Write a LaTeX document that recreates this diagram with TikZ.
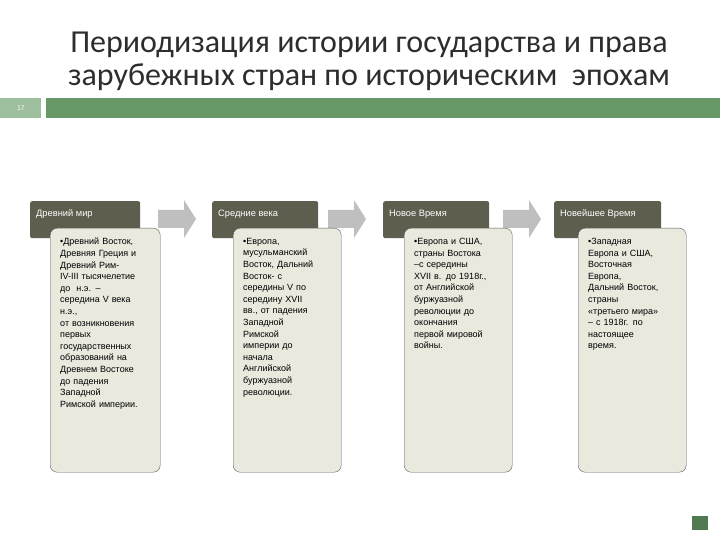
\documentclass[tikz,border=0pt]{standalone}
\usepackage{fontspec}
\setmainfont{Liberation Sans}
\newfontfamily\titlefont{Carlito}
\usetikzlibrary{positioning}
\definecolor{hdrcol}{HTML}{5E5E4E}
\definecolor{boxcol}{HTML}{E9E9DE}
\definecolor{barlight}{HTML}{9DBF9D}
\definecolor{bardark}{HTML}{669966}
\tikzset{
    x=1pt, y=-1pt,
    erahead/.style={fill=hdrcol, rounded corners=2pt, minimum height=37pt, anchor=north west, inner sep=0pt}, % dark header
    eratitle/.style={anchor=north west, text=white, font=\fontsize{9.3}{10}\selectfont, inner xsep=6pt, inner ysep=7pt,
        text height=8pt, text depth=2pt},
    erabox/.style={draw=gray!70!black, fill=boxcol, rounded corners=7pt, anchor=north west,
        minimum height=244pt, inner sep=0pt}, % content body
    eratext/.style={anchor=north west, inner xsep=0pt, inner ysep=0pt,
        font=\fontsize{9}{11.6}\selectfont, align=left},
    steparrow/.style={fill=gray!50, draw=none},
}
\begin{document}
\begin{tikzpicture}
\useasboundingbox (0,0) rectangle (720,540);
\node[text=gray!35!black, font=\titlefont\fontsize{32}{33}\selectfont, align=center] (title) at (369,61)
    {Периодизация истории государства и права\\зарубежных стран по историческим \ эпохам};
\fill[barlight] (0,98) rectangle (41,118);
\fill[bardark] (46,98) rectangle (720,118);
\node[text=white, font=\fontsize{7}{8}\selectfont] (num) at (21,108) {17};

% headers
\node[erahead, minimum width=110pt] (h1) at (30,201) {};
\node[eratitle] (t1) at (h1.north west) {Древний мир};
\node[erahead, minimum width=106pt] (h2) at (212,201) {};
\node[eratitle] (t2) at (h2.north west) {Средние века};
\node[erahead, minimum width=106pt] (h3) at (383,201) {};
\node[eratitle] (t3) at (h3.north west) {Новое Время};
\node[erahead, minimum width=107pt] (h4) at (554,201) {};
\node[eratitle] (t4) at (h4.north west) {Новейшее Время};

% arrows between eras
\foreach \ax/\nm in {158/a1, 328/a2, 503/a3}
    \fill[steparrow] (\ax,210) -- ++(26,0) -- ++(0,-10) -- ++(12,19) -- ++(-12,19) -- ++(0,-10) -- ++(-26,0) -- cycle;

% bodies
\node[erabox, minimum width=110pt] (b1) at (50,228) {};
\node[eratext, text width=98pt] (c1) at ([xshift=10pt, yshift=-10pt]b1.north west)
    {•Древний Восток,\\ Древняя Греция и\\ Древний Рим-\\ IV-III тысячелетие\\ до \ н.э. –\\ середина V века\\ н.э.,\\ от возникновения\\ первых\\ государственных\\ образований на\\ Древнем Востоке\\ до падения\\ Западной\\ Римской империи.};
\node[erabox, minimum width=108pt] (b2) at (233,228) {};
\node[eratext, text width=94pt] (c2) at ([xshift=10pt, yshift=-10pt]b2.north west)
    {•Европа,\\ мусульманский\\ Восток, Дальний\\ Восток- с\\ середины V по\\ середину XVII\\ вв., от падения\\ Западной\\ Римской\\ империи до\\ начала\\ Английской\\ буржуазной\\ революции.};
\node[erabox, minimum width=108pt] (b3) at (404,228) {};
\node[eratext, text width=94pt] (c3) at ([xshift=10pt, yshift=-10pt]b3.north west)
    {•Европа и США,\\ страны Востока\\ –с середины\\ XVII в. до 1918г.,\\ от Английской\\ буржуазной\\ революции до\\ окончания\\ первой мировой\\ войны.};
\node[erabox, minimum width=108pt] (b4) at (578,228) {};
\node[eratext, text width=94pt] (c4) at ([xshift=10pt, yshift=-10pt]b4.north west)
    {•Западная\\ Европа и США,\\ Восточная\\ Европа,\\ Дальний Восток,\\ страны\\ «третьего мира»\\ – с 1918г. по\\ настоящее\\ время.};

\fill[bardark!80!black] (692,516) rectangle (708,530);
\end{tikzpicture}
\end{document}
